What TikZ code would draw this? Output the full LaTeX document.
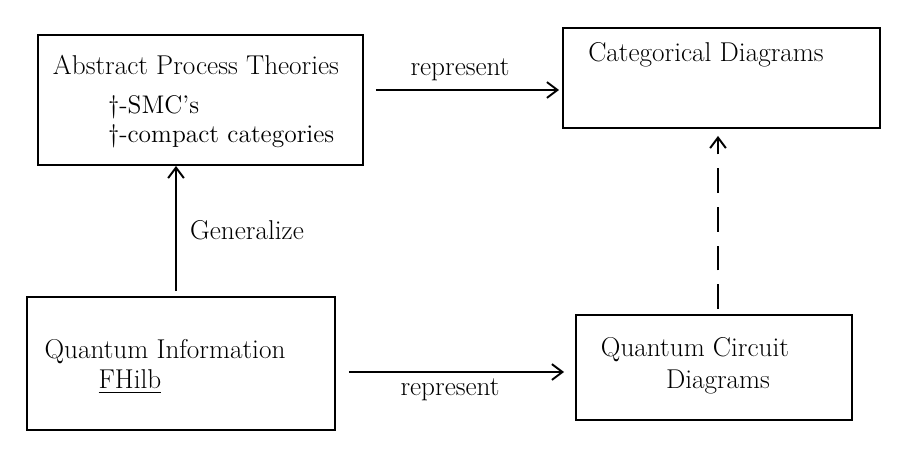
\documentclass[tikz,border=0pt]{standalone}
\usepackage{amsmath, amssymb}
\usepackage{xcolor}
\usepackage{tikz}
\usetikzlibrary{arrows.meta, calc, positioning}
\tikzset{
    theorybox/.style={draw=black, line width=1.1pt, inner sep=0pt},
    boxtext/.style={font=\fontsize{15.5}{18}\selectfont, inner sep=1pt},
    linklabel/.style={font=\fontsize{15.5}{18}\selectfont, inner sep=1pt},
    link/.style={line width=1.1pt, -{Straight Barb[length=6pt, width=9pt]}},
    dashlink/.style={link, dash pattern=on 14pt off 8pt}
}
\begin{document}
\begin{tikzpicture}[x=0.02cm, y=-0.02cm]
    \useasboundingbox (0,0) rectangle (914,454);
    % the four boxes
    \node[theorybox, minimum width=6.5cm, minimum height=2.6cm] (apt) at (200.5,100) {};
    \node[theorybox, minimum width=6.34cm, minimum height=2cm] (cd) at (721.5,78) {};
    \node[theorybox, minimum width=6.16cm, minimum height=2.66cm] (qi) at (181,363.5) {};
    \node[theorybox, minimum width=5.52cm, minimum height=2.1cm] (qcd) at (714,367.5) {};
    % texts in the boxes
    \node[boxtext] (aptname) at (196,65) {Abstract Process Theories};
    \node[boxtext, anchor=west, align=left, font=\fontsize{14.5}{16.5}\selectfont] (kinds) at (106,122)
        {$\dagger$-SMC's\\$\dagger$-compact categories};
    \node[boxtext] (cdname) at (706,55) {Categorical Diagrams};
    \node[boxtext] (qiname) at (165,352) {Quantum Information};
    \node[boxtext] (fhilb) at (130,382) {\underline{FHilb}};
    \node[boxtext] (qcdname) at (695,350) {Quantum Circuit};
    \node[boxtext] (qcddiag) at (718,382) {Diagrams};
    % connectors
    \draw[link] ([shift={(12,-10)}]apt.east) coordinate (r1) -- ($(r1 -| cd.west)+(-3,0)$);
    \draw[link] ([shift={(13,8.5)}]qi.east) coordinate (r2) -- ($(r2 -| qcd.west)+(-11,0)$);
    \draw[link] ([shift={(-5,-5)}]qi.north) coordinate (g1) -- (g1 |- apt.south);
    \draw[dashlink] ([shift={(4,-5)}]qcd.north) coordinate (d1) -- ($(d1 |- cd.south)+(0,7)$);
    \node[linklabel] (rep1) at (460,70) {represent};
    \node[linklabel] (rep2) at (450,390) {represent};
    \node[linklabel] (gen) at (247,230) {Generalize};
\end{tikzpicture}
\end{document}
